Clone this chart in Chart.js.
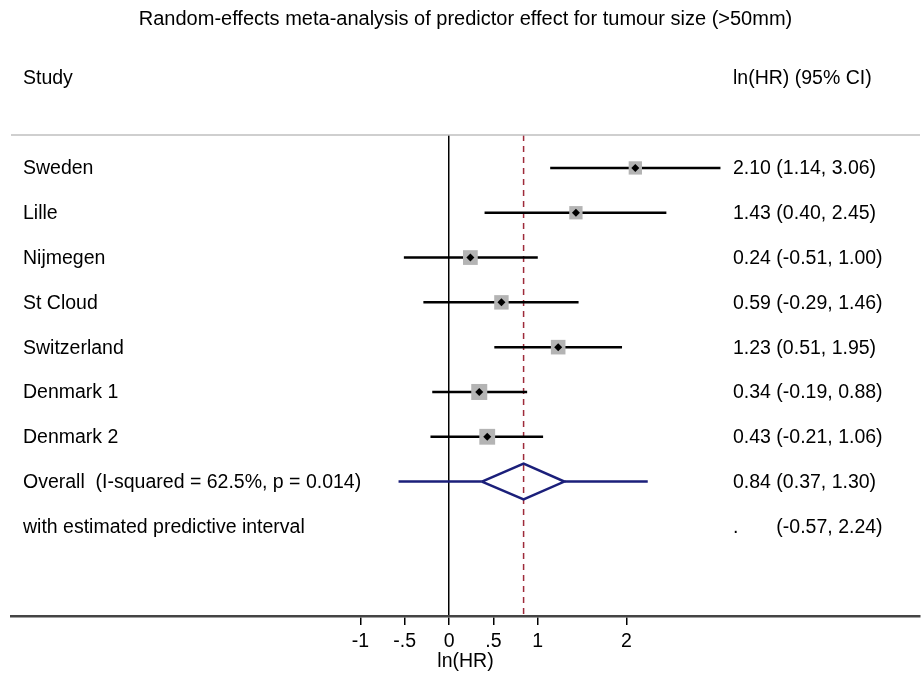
<!DOCTYPE html>
<html>
<head>
<meta charset="utf-8">
<script src="https://cdn.jsdelivr.net/npm/chart.js@4/dist/chart.umd.min.js"></script>
<style>
html, body { margin: 0; padding: 0; background: #fff; overflow: hidden; }
#wrap { width: 924px; height: 673px; }
</style>
</head>
<body>
<div id="wrap"><canvas id="forest"></canvas></div>
<script>
// Datos del meta-analisis
var studies = ["Sweden", "Lille", "Nijmegen", "St Cloud", "Switzerland", "Denmark 1", "Denmark 2"];
var estimates = [2.10, 1.43, 0.24, 0.59, 1.23, 0.34, 0.43];
var lowerCI = [1.14, 0.40, -0.51, -0.29, 0.51, -0.19, -0.21];
var upperCI = [3.06, 2.45, 1.00, 1.46, 1.95, 0.88, 1.06];
var weights = [11.8, 11.8, 14.5, 13.9, 14.2, 17.1, 16.7]; // % (estimado por el tamano de las cajas)

var overallEst = 0.84, overallLo = 0.37, overallHi = 1.30;
var predLo = -0.57, predHi = 2.24;
var overallLabel = "Overall  (I-squared = 62.5%, p = 0.014)";
var predLabel = "with estimated predictive interval";

var xTicks = [-1, -0.5, 0, 0.5, 1, 2];
var xTitle = "ln(HR)";
var chartTitle = "Random-effects meta-analysis of predictor effect for tumour size (>50mm)";
var colHeaders = ["Study", "ln(HR) (95% CI)"];

// rango de ejes
var X_MIN = -4.94, X_MAX = 5.31;
var Y_MIN = 0.265, Y_MAX = 11.0;
var overallRow = studies.length + 1;
var predRow = studies.length + 2;

var FONT = "Arial, 'Liberation Sans', sans-serif";
Chart.defaults.font.family = FONT;
Chart.defaults.font.size = 19.5;
Chart.defaults.color = "#000";

function fmt(v) { return v.toFixed(2); }
function tickFmt(v) {
    if (v === 0) return "0";
    return String(v).replace(/^(-?)0\./, "$1.");
}

// lineas de IC (segmentos separados por null)
var ciData = [];
studies.forEach(function (s, i) {
    ciData.push({ x: lowerCI[i], y: i + 1 }, { x: upperCI[i], y: i + 1 }, { x: null, y: null });
});
var boxData = studies.map(function (s, i) { return { x: estimates[i], y: i + 1 }; });
var boxRadius = weights.map(function (w) { return 13.3 * Math.sqrt(w / 11.8) / Math.SQRT2; });

var dh = 0.4; // media altura del rombo, en filas
var diamondData = [
    { x: overallLo, y: overallRow }, { x: overallEst, y: overallRow - dh },
    { x: overallHi, y: overallRow }, { x: overallEst, y: overallRow + dh },
    { x: overallLo, y: overallRow }
];
var predData = [
    { x: predLo, y: overallRow }, { x: overallLo, y: overallRow }, { x: null, y: null },
    { x: overallHi, y: overallRow }, { x: predHi, y: overallRow }
];

// textos de columnas y linea gris superior
var textPlugin = {
    id: "forestText",
    afterDraw: function (chart) {
        var ctx = chart.ctx, ys = chart.scales.y, area = chart.chartArea;
        var leftX = 23, rightX = 733;
        ctx.save();
        ctx.strokeStyle = "#bfbfbf";
        ctx.lineWidth = 1.5;
        ctx.beginPath();
        ctx.moveTo(area.left, area.top);
        ctx.lineTo(area.right, area.top);
        ctx.stroke();

        ctx.font = "19.5px " + FONT;
        ctx.fillStyle = "#000";
        ctx.textBaseline = "middle";
        ctx.textAlign = "left";
        ctx.fillText(colHeaders[0], leftX, 79);
        ctx.fillText(colHeaders[1], rightX, 79);

        studies.forEach(function (s, i) {
            var y = ys.getPixelForValue(i + 1) + 1;
            ctx.fillText(s, leftX, y);
            ctx.fillText(fmt(estimates[i]) + " (" + fmt(lowerCI[i]) + ", " + fmt(upperCI[i]) + ")", rightX, y);
        });
        var yo = ys.getPixelForValue(overallRow) + 1;
        ctx.fillText(overallLabel, leftX, yo);
        var estTxt = fmt(overallEst) + " ";
        ctx.fillText(estTxt + "(" + fmt(overallLo) + ", " + fmt(overallHi) + ")", rightX, yo);
        var yp = ys.getPixelForValue(predRow) + 1;
        ctx.fillText(predLabel, leftX, yp);
        ctx.fillText(".", rightX, yp);
        ctx.fillText("(" + fmt(predLo) + ", " + fmt(predHi) + ")", rightX + ctx.measureText(estTxt).width, yp);
        ctx.restore();
    }
};

new Chart(document.getElementById("forest"), {
    type: "scatter",
    data: {
        datasets: [
            {
                type: "line", order: 6, data: [{ x: overallEst, y: Y_MIN }, { x: overallEst, y: Y_MAX }],
                borderColor: "#9e2a3a", borderWidth: 1.5, borderDash: [6, 5], pointRadius: 0
            },
            {
                type: "line", order: 5, data: ciData, borderColor: "#000", borderWidth: 2.5,
                pointRadius: 0, spanGaps: false
            },
            {
                order: 4, data: boxData, pointStyle: "rect", pointRadius: boxRadius,
                backgroundColor: "#b4b4b4", borderWidth: 0
            },
            {
                order: 1, data: boxData, pointStyle: "rectRot", pointRadius: 4,
                backgroundColor: "#000", borderWidth: 0
            },
            {
                type: "line", order: 3, data: predData, borderColor: "#1b1f7a", borderWidth: 2.5,
                pointRadius: 0, spanGaps: false
            },
            {
                type: "line", order: 2, data: diamondData, borderColor: "#1b1f7a", borderWidth: 2.5,
                pointRadius: 0, fill: false
            }
        ]
    },
    options: {
        responsive: true,
        maintainAspectRatio: false,
        animation: false,
        layout: { autoPadding: false, padding: { left: 11, right: 4, top: 0, bottom: 0 } },
        plugins: {
            legend: { display: false },
            tooltip: { enabled: false },
            title: {
                display: true, text: chartTitle, color: "#000",
                font: { size: 20, weight: "normal" },
                padding: { top: 7, bottom: 104 }
            }
        },
        scales: {
            x: {
                type: "linear", min: X_MIN, max: X_MAX,
                afterBuildTicks: function (scale) {
                    scale.ticks = xTicks.map(function (v) { return { value: v }; });
                },
                ticks: {
                    color: "#000", padding: 5, maxRotation: 0, autoSkip: false,
                    callback: function (v) { return tickFmt(v); }
                },
                grid: {
                    drawTicks: true, tickLength: 9, tickColor: "#000", tickWidth: 1.5,
                    color: function (c) { return c.tick && c.tick.value === 0 ? "#000" : "rgba(0,0,0,0)"; },
                    lineWidth: 1.5
                },
                border: { display: true, color: "#444", width: 2.5 },
                title: {
                    display: true, text: xTitle, color: "#000",
                    font: { size: 19.5, lineHeight: 1 }, padding: { top: -6.9, bottom: 2 }
                }
            },
            y: {
                type: "linear", reverse: true, min: Y_MIN, max: Y_MAX, display: false
            }
        }
    },
    plugins: [textPlugin]
});
</script>
</body>
</html>
